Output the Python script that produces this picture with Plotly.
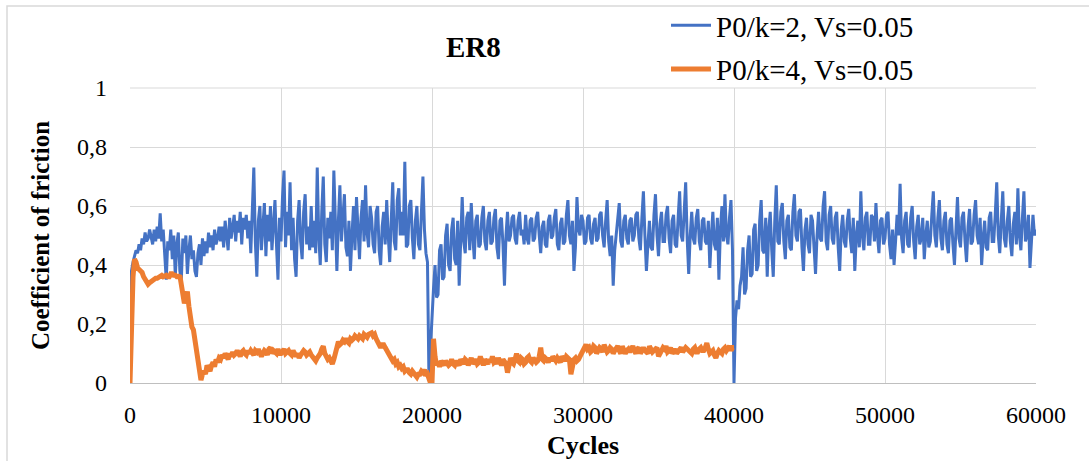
import plotly.graph_objects as go

# ---------------- data ----------------
step = 100  # cycles between samples

blue_vals = [
    0.00, 0.38, 0.41, 0.43, 0.45, 0.44, 0.47, 0.45, 0.49, 0.47, 0.51, 0.48, 0.49, 0.52, 0.50, 0.47, 0.52, 0.48, 0.53, 0.49,
    0.575, 0.48, 0.52, 0.44, 0.35, 0.48, 0.45, 0.52, 0.42, 0.50, 0.36, 0.47, 0.51, 0.38, 0.35, 0.49, 0.44, 0.50, 0.37, 0.45,
    0.50, 0.42, 0.45, 0.38, 0.36, 0.44, 0.47, 0.40, 0.49, 0.43, 0.48, 0.44, 0.51, 0.46, 0.50, 0.45, 0.52, 0.47, 0.49, 0.53,
    0.48, 0.53, 0.46, 0.55, 0.50, 0.45, 0.56, 0.49, 0.53, 0.57, 0.48, 0.55, 0.51, 0.58, 0.47, 0.56, 0.52, 0.57, 0.49, 0.55,
    0.44, 0.56, 0.73, 0.48, 0.36, 0.55, 0.60, 0.45, 0.52, 0.61, 0.43, 0.57, 0.48, 0.60, 0.45, 0.55, 0.62, 0.47, 0.35, 0.56,
    0.48, 0.63, 0.72, 0.46, 0.58, 0.50, 0.68, 0.45, 0.56, 0.42, 0.36, 0.55, 0.62, 0.48, 0.42, 0.58, 0.64, 0.47, 0.53, 0.45,
    0.60, 0.46, 0.55, 0.44, 0.73, 0.50, 0.40, 0.58, 0.70, 0.47, 0.41, 0.56, 0.49, 0.58, 0.45, 0.72, 0.50, 0.38, 0.55, 0.67,
    0.48, 0.57, 0.64, 0.46, 0.43, 0.55, 0.38, 0.50, 0.60, 0.45, 0.63, 0.52, 0.42, 0.56, 0.62, 0.48, 0.67, 0.51, 0.46, 0.60,
    0.56, 0.47, 0.44, 0.58, 0.60, 0.45, 0.40, 0.53, 0.58, 0.47, 0.62, 0.50, 0.41, 0.55, 0.68, 0.48, 0.45, 0.62, 0.66, 0.50,
    0.58, 0.50, 0.75, 0.46, 0.47, 0.60, 0.62, 0.49, 0.42, 0.55, 0.60, 0.47, 0.45, 0.58, 0.70, 0.52, 0.44, 0.41, 0.01, 0.12,
    0.25, 0.32, 0.40, 0.29, 0.30, 0.45, 0.47, 0.35, 0.36, 0.50, 0.54, 0.40, 0.38, 0.52, 0.56, 0.42, 0.40, 0.55, 0.33, 0.50,
    0.63, 0.48, 0.44, 0.56, 0.58, 0.45, 0.61, 0.50, 0.42, 0.55, 0.57, 0.46, 0.47, 0.56, 0.60, 0.48, 0.45, 0.55, 0.58, 0.47,
    0.48, 0.56, 0.59, 0.46, 0.42, 0.55, 0.56, 0.47, 0.33, 0.50, 0.58, 0.48, 0.50, 0.56, 0.57, 0.49, 0.47, 0.55, 0.58, 0.50,
    0.52, 0.47, 0.57, 0.49, 0.47, 0.55, 0.56, 0.48, 0.49, 0.56, 0.58, 0.50, 0.44, 0.53, 0.55, 0.47, 0.46, 0.55, 0.57, 0.49,
    0.50, 0.56, 0.59, 0.47, 0.45, 0.54, 0.56, 0.47, 0.48, 0.57, 0.62, 0.50, 0.47, 0.55, 0.38, 0.46, 0.63, 0.52, 0.50, 0.57,
    0.55, 0.47, 0.48, 0.56, 0.57, 0.49, 0.47, 0.54, 0.56, 0.48, 0.49, 0.57, 0.58, 0.50, 0.46, 0.55, 0.62, 0.48, 0.43, 0.50,
    0.33, 0.45, 0.50, 0.56, 0.61, 0.48, 0.46, 0.55, 0.57, 0.49, 0.47, 0.55, 0.56, 0.48, 0.50, 0.57, 0.58, 0.49, 0.45, 0.56,
    0.65, 0.50, 0.38, 0.47, 0.55, 0.46, 0.45, 0.57, 0.64, 0.50, 0.43, 0.54, 0.58, 0.48, 0.48, 0.57, 0.60, 0.49, 0.44, 0.55,
    0.57, 0.47, 0.46, 0.56, 0.65, 0.50, 0.48, 0.58, 0.68, 0.49, 0.37, 0.50, 0.58, 0.49, 0.47, 0.56, 0.59, 0.48, 0.45, 0.55,
    0.56, 0.48, 0.47, 0.55, 0.39, 0.50, 0.58, 0.47, 0.45, 0.56, 0.35, 0.52, 0.60, 0.48, 0.64, 0.50, 0.47, 0.56, 0.62, 0.45,
    0.00, 0.22, 0.28, 0.25, 0.33, 0.36, 0.46, 0.30, 0.32, 0.45, 0.50, 0.36, 0.37, 0.52, 0.54, 0.38, 0.40, 0.55, 0.62, 0.45,
    0.44, 0.56, 0.36, 0.52, 0.58, 0.45, 0.36, 0.55, 0.67, 0.48, 0.47, 0.58, 0.61, 0.48, 0.42, 0.55, 0.57, 0.46, 0.45, 0.58,
    0.64, 0.50, 0.48, 0.58, 0.59, 0.46, 0.38, 0.52, 0.56, 0.47, 0.44, 0.57, 0.55, 0.46, 0.37, 0.50, 0.58, 0.49, 0.48, 0.60,
    0.65, 0.48, 0.45, 0.57, 0.60, 0.49, 0.47, 0.56, 0.58, 0.46, 0.38, 0.52, 0.57, 0.48, 0.46, 0.55, 0.59, 0.49, 0.44, 0.56,
    0.38, 0.50, 0.55, 0.46, 0.65, 0.50, 0.45, 0.56, 0.58, 0.47, 0.47, 0.57, 0.56, 0.48, 0.61, 0.50, 0.44, 0.55, 0.56, 0.47,
    0.49, 0.57, 0.58, 0.47, 0.42, 0.52, 0.40, 0.48, 0.57, 0.50, 0.675, 0.49, 0.44, 0.55, 0.58, 0.47, 0.46, 0.56, 0.60, 0.48,
    0.42, 0.53, 0.57, 0.47, 0.49, 0.56, 0.42, 0.50, 0.55, 0.46, 0.48, 0.57, 0.65, 0.50, 0.46, 0.56, 0.62, 0.49, 0.45, 0.55,
    0.58, 0.47, 0.44, 0.55, 0.56, 0.47, 0.40, 0.52, 0.63, 0.49, 0.46, 0.56, 0.58, 0.48, 0.41, 0.53, 0.59, 0.47, 0.48, 0.57,
    0.62, 0.50, 0.47, 0.56, 0.40, 0.49, 0.55, 0.46, 0.45, 0.56, 0.58, 0.48, 0.48, 0.57, 0.68, 0.50, 0.44, 0.55, 0.65, 0.49,
    0.46, 0.55, 0.60, 0.48, 0.43, 0.54, 0.58, 0.47, 0.66, 0.50, 0.45, 0.56, 0.65, 0.48, 0.50, 0.57, 0.39, 0.48, 0.57, 0.50,
    0.52,
]

orange_vals = [
    0.00, 0.20, 0.36, 0.42, 0.41, 0.39, 0.385, 0.38, 0.375, 0.36, 0.35, 0.34, 0.335, 0.34, 0.345, 0.35, 0.35, 0.355, 0.355, 0.36,
    0.36, 0.365, 0.36, 0.365, 0.365, 0.36, 0.36, 0.37, 0.37, 0.365, 0.365, 0.36, 0.36, 0.365, 0.34, 0.30, 0.27, 0.29, 0.31, 0.26,
    0.21, 0.19, 0.18, 0.14, 0.10, 0.06, 0.02, 0.01, 0.03, 0.04, 0.03, 0.06, 0.05, 0.04, 0.06, 0.07, 0.055, 0.08, 0.07, 0.085,
    0.08, 0.095, 0.085, 0.10, 0.09, 0.08, 0.10, 0.09, 0.105, 0.095, 0.10, 0.11, 0.10, 0.09, 0.105, 0.11, 0.10, 0.095, 0.11, 0.10,
    0.11, 0.10, 0.095, 0.11, 0.105, 0.115, 0.10, 0.09, 0.10, 0.11, 0.105, 0.095, 0.115, 0.12, 0.10, 0.11, 0.105, 0.10, 0.115, 0.10,
    0.10, 0.11, 0.115, 0.10, 0.105, 0.11, 0.10, 0.095, 0.11, 0.10, 0.09, 0.10, 0.085, 0.095, 0.10, 0.11, 0.105, 0.095, 0.10, 0.105,
    0.095, 0.09, 0.08, 0.075, 0.085, 0.09, 0.10, 0.115, 0.125, 0.10, 0.09, 0.08, 0.085, 0.07, 0.065, 0.08, 0.11, 0.12, 0.14, 0.13,
    0.135, 0.145, 0.14, 0.15, 0.14, 0.135, 0.15, 0.145, 0.15, 0.16, 0.155, 0.15, 0.16, 0.155, 0.15, 0.165, 0.16, 0.155, 0.165, 0.17,
    0.17, 0.16, 0.165, 0.15, 0.14, 0.125, 0.12, 0.13, 0.13, 0.12, 0.11, 0.10, 0.09, 0.085, 0.075, 0.08, 0.065, 0.07, 0.055, 0.06,
    0.05, 0.055, 0.04, 0.045, 0.045, 0.035, 0.03, 0.04, 0.035, 0.025, 0.02, 0.03, 0.03, 0.04, 0.035, 0.045, 0.025, 0.03, 0.01, 0.00,
    0.00, 0.15, 0.09, 0.06, 0.07, 0.055, 0.075, 0.065, 0.06, 0.075, 0.07, 0.06, 0.065, 0.08, 0.065, 0.06, 0.075, 0.07, 0.06, 0.08,
    0.07, 0.065, 0.08, 0.075, 0.06, 0.07, 0.085, 0.065, 0.075, 0.08, 0.065, 0.07, 0.09, 0.07, 0.06, 0.08, 0.075, 0.065, 0.08, 0.07,
    0.09, 0.07, 0.075, 0.065, 0.085, 0.07, 0.06, 0.08, 0.075, 0.065, 0.035, 0.075, 0.085, 0.07, 0.065, 0.08, 0.10, 0.075, 0.07, 0.085,
    0.08, 0.065, 0.07, 0.085, 0.09, 0.075, 0.07, 0.085, 0.08, 0.07, 0.075, 0.09, 0.12, 0.08, 0.075, 0.085, 0.08, 0.07, 0.085, 0.075,
    0.09, 0.08, 0.075, 0.085, 0.08, 0.07, 0.09, 0.08, 0.075, 0.09, 0.085, 0.08, 0.03, 0.06, 0.08, 0.085, 0.075, 0.08, 0.09, 0.10,
    0.11, 0.12, 0.13, 0.115, 0.12, 0.105, 0.11, 0.125, 0.12, 0.10, 0.11, 0.12, 0.115, 0.105, 0.13, 0.12, 0.105, 0.11, 0.12, 0.115,
    0.10, 0.11, 0.115, 0.125, 0.11, 0.10, 0.125, 0.115, 0.10, 0.11, 0.115, 0.105, 0.12, 0.125, 0.11, 0.10, 0.115, 0.12, 0.10, 0.11,
    0.12, 0.11, 0.105, 0.10, 0.125, 0.115, 0.105, 0.11, 0.115, 0.12, 0.09, 0.105, 0.11, 0.12, 0.115, 0.125, 0.105, 0.11, 0.12, 0.10,
    0.11, 0.115, 0.10, 0.105, 0.115, 0.12, 0.105, 0.11, 0.12, 0.115, 0.11, 0.10, 0.10, 0.115, 0.12, 0.105, 0.105, 0.115, 0.12, 0.11,
    0.11, 0.12, 0.135, 0.115, 0.10, 0.105, 0.11, 0.095, 0.085, 0.10, 0.11, 0.105, 0.10, 0.115, 0.12, 0.11, 0.12, 0.125, 0.11, 0.12,
    0.12,
]

blue_cycles = [i * step for i in range(len(blue_vals))]
orange_cycles = [i * step for i in range(len(orange_vals))]

series_names = ["P0/k=2, Vs=0.05", "P0/k=4, Vs=0.05"]
x_tick_vals = [0, 10000, 20000, 30000, 40000, 50000, 60000]
x_tick_text = ["0", "10000", "20000", "30000", "40000", "50000", "60000"]
y_tick_vals = [0, 0.2, 0.4, 0.6, 0.8, 1]
y_tick_text = ["0", "0,2", "0,4", "0,6", "0,8", "1"]

BLUE = "#4472C4"
ORANGE = "#ED7D31"
FONT = "Liberation Serif"

fig = go.Figure()
fig.add_trace(go.Scatter(x=blue_cycles, y=blue_vals, mode="lines", name=series_names[0],
                         legendgroup="a", line=dict(color=BLUE, width=3)))
fig.add_trace(go.Scatter(x=orange_cycles, y=orange_vals, mode="lines", name=series_names[1],
                         legendgroup="b", line=dict(color=ORANGE, width=5)))

W, H = 1089, 461
L, R, T, B = 130, 53, 88, 78
pw, ph = W - L - R, H - T - B

def px(xp):
    return (xp - L) / pw

def py(yp):
    return (H - B - yp) / ph

fig.update_layout(
    width=W, height=H,
    margin=dict(l=L, r=R, t=T, b=B, autoexpand=False),
    paper_bgcolor="white", plot_bgcolor="white",
    font=dict(family=FONT, color="black", size=22),
    showlegend=True,
    legend=dict(x=px(666), y=py(0), xanchor="left", yanchor="top",
                font=dict(family=FONT, size=29, color="black"),
                bgcolor="rgba(0,0,0,0)", tracegroupgap=3, itemwidth=40),
    xaxis=dict(range=[0, 60000], tickvals=x_tick_vals, ticktext=x_tick_text,
               showgrid=True, gridcolor="#d9d9d9", gridwidth=1,
               zeroline=False, showline=True, linecolor="#bfbfbf", linewidth=1,
               ticks="", ticklabelstandoff=10,
               tickfont=dict(family=FONT, size=24, color="black"),
               title=dict(text="<b>Cycles</b>", font=dict(family=FONT, size=26, color="black"),
                          standoff=9)),
    yaxis=dict(range=[0, 1], tickvals=y_tick_vals, ticktext=y_tick_text,
               showgrid=True, gridcolor="#d9d9d9", gridwidth=1,
               zeroline=False, showline=False, ticks="", ticklabelstandoff=22,
               tickfont=dict(family=FONT, size=24, color="black"),
               title=dict(text="<b>Coefficient of friction</b>",
                          font=dict(family=FONT, size=25, color="black"), standoff=20)),
    annotations=[dict(text="<b>ER8</b>", x=px(473), y=py(47), xref="paper", yref="paper",
                      showarrow=False, xanchor="center", yanchor="middle",
                      font=dict(family=FONT, size=29, color="black"))],
    shapes=[dict(type="rect", xref="paper", yref="paper",
                 x0=px(7), y0=py(475), x1=px(1095), y1=py(6),
                 line=dict(color="#d9d9d9", width=1.5), fillcolor="rgba(0,0,0,0)", layer="below"),
            dict(type="line", xref="paper", yref="paper", x0=0, x1=1, y0=1, y1=1,
                 line=dict(color="#d9d9d9", width=1))],
)

fig.write_html("out.html")
